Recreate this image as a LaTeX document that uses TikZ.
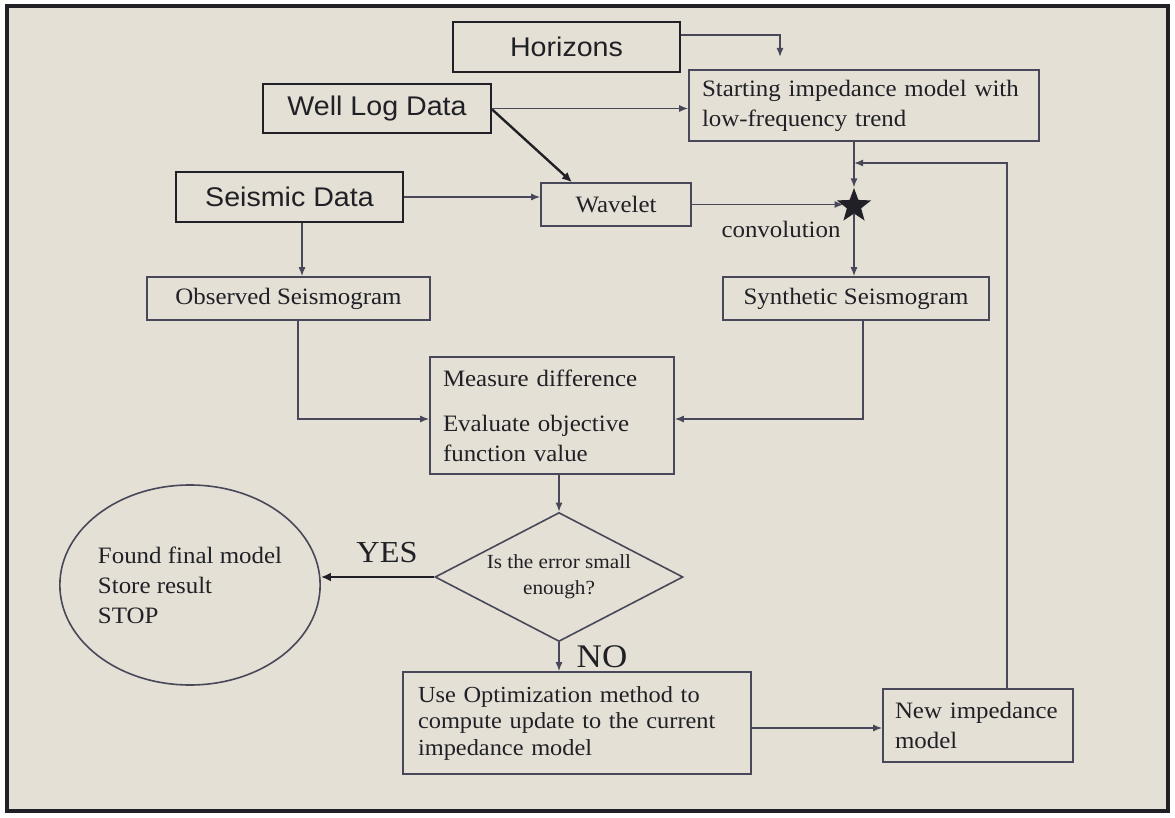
\documentclass[tikz,border=0pt]{standalone}
\usepackage{fontspec}
\setmainfont{Liberation Serif}[FakeStretch=1.06]
\newfontfamily\arialf{Liberation Sans}[FakeStretch=1.06]
\usetikzlibrary{arrows.meta,shapes.geometric}
\definecolor{bg}{RGB}{229,224,213}
\definecolor{ln}{RGB}{72,72,90}
\definecolor{dk}{RGB}{32,32,38}
\tikzset{
  sansbox/.style={draw=dk, line width=2.4pt, inner sep=0pt, text=dk,
    font=\arialf\fontsize{27}{30}\selectfont},
  serifbox/.style={draw=ln, line width=1.6pt, inner sep=0pt, text=dk,
    font=\fontsize{23.5}{30}\selectfont},
  conn/.style={draw=ln, line width=1.4pt, -{Latex[length=9pt,width=7pt]}},
  thickconn/.style={draw=dk, line width=2.8pt, -{Latex[length=10pt,width=9pt]}},
  lbl/.style={text=dk, inner sep=0pt}
}
\begin{document}
\begin{tikzpicture}[x=1pt,y=-1pt]
\useasboundingbox (0,0) rectangle (1175,818);
\fill[white] (0,0) rectangle (1175,818);
\draw[fill=bg, draw=dk, line width=4.5pt] (7,6) rectangle (1168,811);

% nodes
\node[sansbox, minimum width=227pt, minimum height=50pt] (hor) at (566.5,47) {Horizons};
\node[sansbox, minimum width=228pt, minimum height=49pt] (well) at (377,108.5) {Well Log Data};
\node[sansbox, minimum width=227pt, minimum height=50pt] (seis) at (289.5,197) {Seismic Data};
\node[serifbox, minimum width=350pt, minimum height=71pt, text width=324pt, align=left] (start) at (864,105.5) {Starting impedance model with\\low-frequency trend};
\node[serifbox, minimum width=150pt, minimum height=43pt] (wav) at (616,204.5) {Wavelet};
\node[star, star points=5, star point ratio=2.4, fill=dk, inner sep=0pt, minimum size=36pt] (conv) at (854,206) {};
\node[lbl, font=\fontsize{23.5}{26}\selectfont] (convlbl) at (781,229) {convolution};
\node[serifbox, minimum width=283pt, minimum height=43pt] (obs) at (288.5,298.5) {Observed Seismogram};
\node[serifbox, minimum width=266pt, minimum height=43pt] (syn) at (856,298.5) {Synthetic Seismogram};
\node[serifbox, minimum width=244pt, minimum height=117pt, text width=218pt, align=left] (meas) at (552,415.5) {Measure difference\\[15pt]Evaluate objective\\function value};
\node[diamond, aspect=1.9, draw=ln, line width=1.6pt, minimum width=248pt, minimum height=129pt, inner sep=0pt, align=center, text=dk, font=\fontsize{20}{26}\selectfont] (dec) at (559,577) {Is the error small\\enough?};
\node[ellipse, draw=ln, line width=1.6pt, minimum width=254pt, minimum height=200pt, inner sep=0pt, align=left, text=dk, font=\fontsize{23.5}{30}\selectfont] (fin) at (190,585) {Found final model\\Store result\\STOP};
\node[serifbox, minimum width=348pt, minimum height=102pt, text width=318pt, align=left, font=\fontsize{23}{26.5}\selectfont] (opt) at (577,723) {Use Optimization method to\\compute update to the current\\impedance model};
\node[serifbox, minimum width=190pt, minimum height=73pt, text width=166pt, align=left] (new) at (978,725.5) {New impedance\\model};
\node[lbl, font=\fontsize{30.5}{32}\selectfont] (yes) at (387,553) {YES};
\node[lbl, font=\fontsize{33}{34}\selectfont] (no) at (602,657) {NO};

% connectors
\coordinate (hend) at (780,57);
\coordinate (fbend) at (854,163);
\draw[conn] ([yshift=12pt]hor.east) -| (hend);
\draw[conn] (well.east) -- (well.east -| start.west);
\draw[thickconn, line width=2.4pt] ([yshift=-1pt]well.east) -- ([xshift=-44pt]wav.north);
\draw[conn] (seis.east) -- (seis.east -| wav.west);
\draw[conn] ([xshift=12.5pt]seis.south) -- ([xshift=12.5pt]seis.south |- obs.north);
\draw[conn] (wav.east) -- (wav.east -| conv.west);
\draw[conn] (start.south -| conv.north) -- (conv.north);
\draw[conn] (conv.south) -- (conv.south |- syn.north);
\draw[conn] ([xshift=9.5pt]obs.south) |- ([yshift=-3.5pt]meas.west);
\draw[conn] ([xshift=7pt]syn.south) |- ([yshift=-3.5pt]meas.east);
\draw[conn] (dec.north |- meas.south) -- (dec.north);
\draw[thickconn] (dec.west) -- (dec.west -| fin.east);
\draw[conn] (dec.south) -- (dec.south |- opt.north);
\draw[conn] ([yshift=-5pt]opt.east) -- ([yshift=-5pt]opt.east -| new.west);
\draw[conn] ([xshift=29pt]new.north) |- (fbend);
\end{tikzpicture}
\end{document}
